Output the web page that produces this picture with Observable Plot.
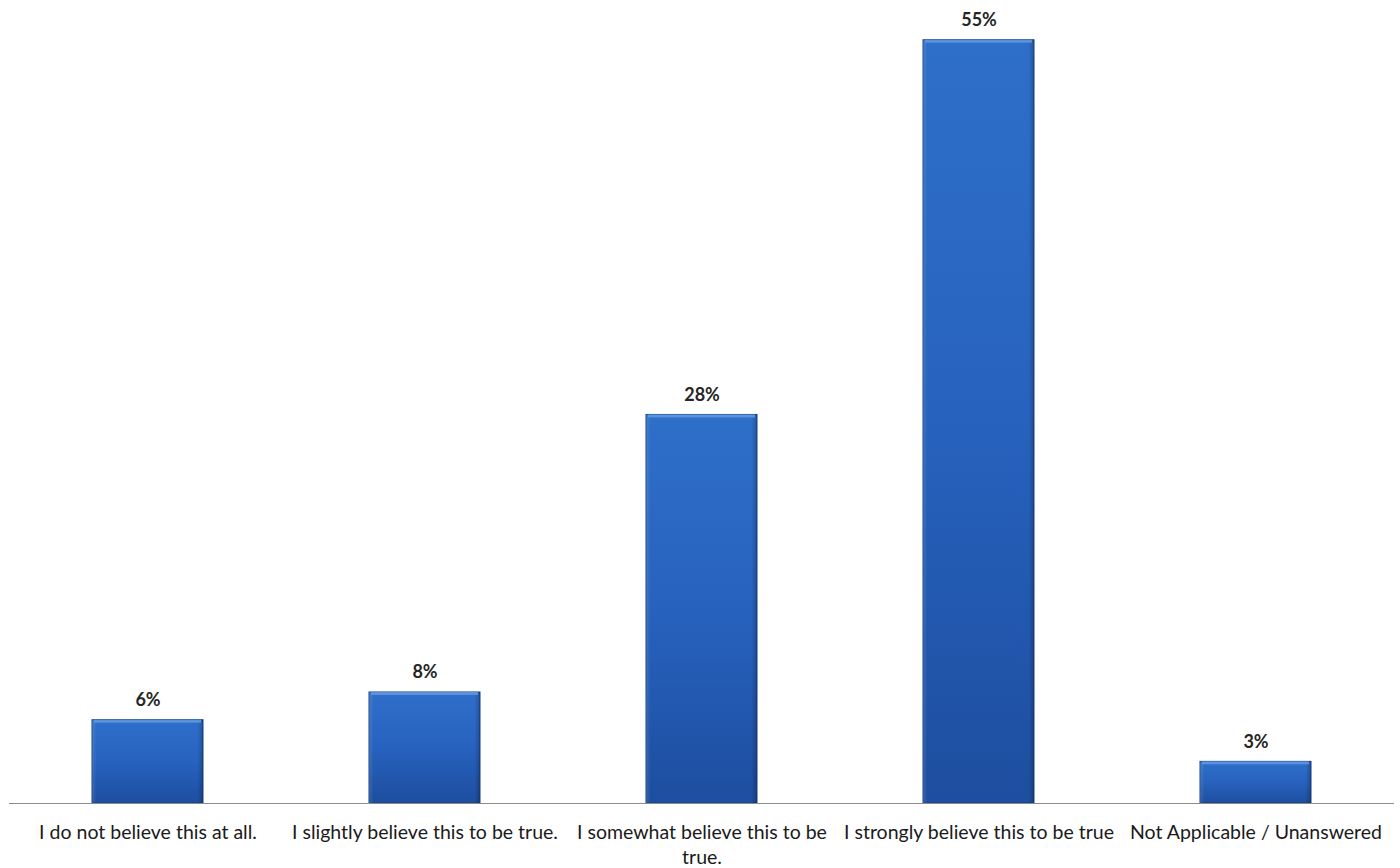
<!DOCTYPE html>
<html>
<head>
<meta charset="utf-8">
<script src="https://cdn.jsdelivr.net/npm/d3@7"></script>
<script src="https://cdn.jsdelivr.net/npm/@observablehq/plot@0.6"></script>
<style>
  html, body { margin: 0; padding: 0; background: #fff; }
  #chart svg { display: block; }
</style>
</head>
<body>
<div id="chart"></div>
<script>
// Survey responses: how strongly respondents believe the statement
const categories = [
  "I do not believe this at all.",
  "I slightly believe this to be true.",
  "I somewhat believe this to be true.",
  "I strongly believe this to be true",
  "Not Applicable / Unanswered"
];
const tickLabels = [
  "I do not believe this at all.",
  "I slightly believe this to be true.",
  "I somewhat believe this to be\ntrue.",
  "I strongly believe this to be true",
  "Not Applicable / Unanswered"
];
const percents = [6, 8, 28, 55, 3];

const data = categories.map((c, i) => ({category: c, value: percents[i]}));
const labelOf = new Map(categories.map((c, i) => [c, tickLabels[i]]));

// Gradient + bevel definitions for the bars
const defs = () => {
  const svg = d3.create("svg:g");
  const d = svg.append("defs");
  const g = d.append("linearGradient").attr("id", "barFill")
    .attr("x1", 0).attr("y1", 0).attr("x2", 0).attr("y2", 1);
  g.append("stop").attr("offset", "0%").attr("stop-color", "#2e6fca");
  g.append("stop").attr("offset", "50%").attr("stop-color", "#2762be");
  g.append("stop").attr("offset", "100%").attr("stop-color", "#1d4e9f");
  const h = d.append("linearGradient").attr("id", "barSide")
    .attr("x1", 0).attr("y1", 0).attr("x2", 1).attr("y2", 0);
  h.append("stop").attr("offset", "0%").attr("stop-color", "#fff").attr("stop-opacity", 0.12);
  h.append("stop").attr("offset", "4%").attr("stop-color", "#fff").attr("stop-opacity", 0);
  h.append("stop").attr("offset", "95%").attr("stop-color", "#000").attr("stop-opacity", 0);
  h.append("stop").attr("offset", "100%").attr("stop-color", "#000").attr("stop-opacity", 0.22);
  return svg.node();
};

const chart = Plot.plot({
  width: 1400,
  height: 868,
  marginLeft: 9,
  marginRight: 6,
  marginTop: 12,
  marginBottom: 65,
  style: {fontFamily: "Lato, 'Open Sans', sans-serif", background: "#fff"},
  x: {domain: categories, paddingInner: 0.6, paddingOuter: 0.3, label: null},
  y: {domain: [0, 57], axis: null},
  marks: [
    defs,
    Plot.barY(data, {x: "category", y: "value", fill: "url(#barFill)", stroke: "#17417f", strokeWidth: 1}),
    Plot.barY(data, {x: "category", y: "value", fill: "url(#barSide)"}),
    // light bevel along the top edge
    Plot.barY(data, {x: "category", y1: "value", y2: "value", insetBottom: -3, insetLeft: 2, insetRight: 2, fill: "#6199de", fillOpacity: 0.85}),
    Plot.ruleY([0], {stroke: "#8c8c8c", strokeWidth: 1.2}),
    Plot.text(data, {
      x: "category", y: "value", text: d => `${d.value}%`,
      dy: -14, lineAnchor: "bottom", fontSize: 18, fontWeight: "bold", fill: "#262626"
    }),
    Plot.axisX({
      tickSize: 0, tickPadding: 17, fontSize: 19.5, fill: "#1a1a1a",
      tickFormat: c => labelOf.get(c), lineHeight: 1.3, label: null
    })
  ]
});

document.getElementById("chart").append(chart);
</script>
</body>
</html>
